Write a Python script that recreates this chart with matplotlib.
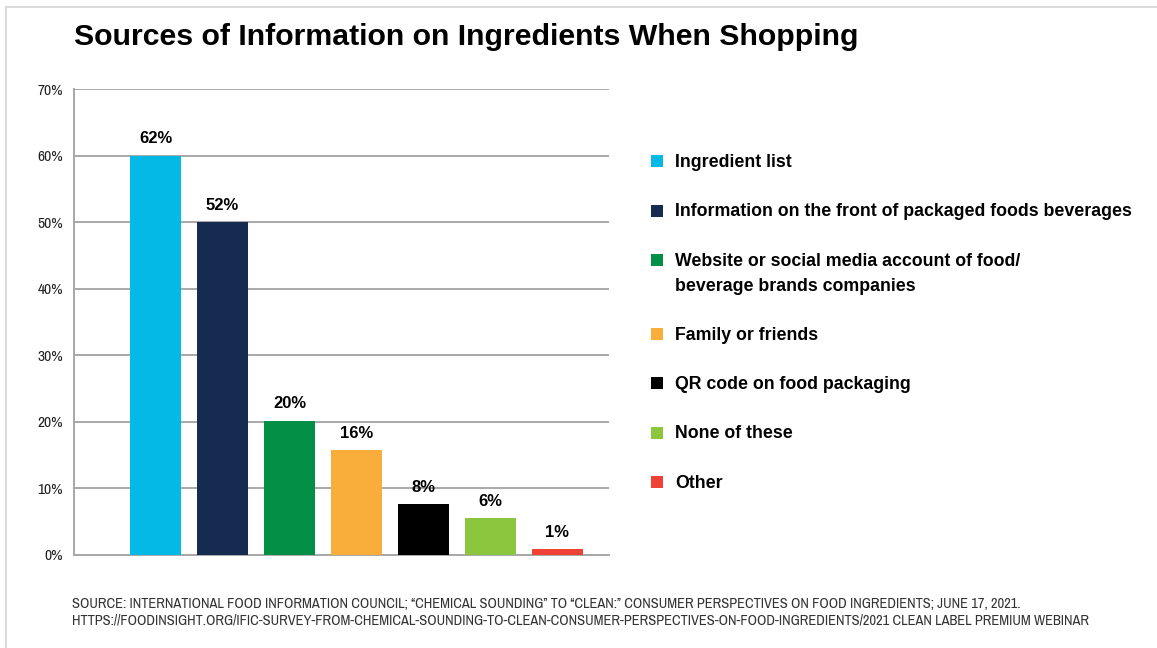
import matplotlib
matplotlib.use('Agg')
import matplotlib.pyplot as plt
from matplotlib import font_manager
from matplotlib.patches import Rectangle

# fonts: use a narrow face for ticks and footnote when one is installed
fonts = font_manager.fontManager.ttflist
NARROW = 'DejaVu Sans'
for f in fonts:
    if 'Narrow' in f.name:
        NARROW = f.name
        break
SANS = 'Liberation Sans'

categories = ['Ingredient list',
              'Information on the front of packaged foods beverages',
              'Website or social media account of food/\nbeverage brands companies',
              'Family or friends',
              'QR code on food packaging',
              'None of these',
              'Other']
bar_heights = [60, 50, 20.2, 15.7, 7.6, 5.5, 0.9]
bar_labels = ['62%', '52%', '20%', '16%', '8%', '6%', '1%']
colors = ['#05b9e6', '#152b4f', '#039046', '#f9ae3c', '#000000', '#8cc63f', '#ef4135']
yticks = [0, 10, 20, 30, 40, 50, 60, 70]
ytick_labels = ['0%', '10%', '20%', '30%', '40%', '50%', '60%', '70%']

title = 'Sources of Information on Ingredients When Shopping'
source = ('SOURCE: INTERNATIONAL FOOD INFORMATION COUNCIL; \u201cCHEMICAL SOUNDING\u201d TO \u201cCLEAN:\u201d '
          'CONSUMER PERSPECTIVES ON FOOD INGREDIENTS; JUNE 17, 2021.\n'
          'HTTPS://FOODINSIGHT.ORG/IFIC-SURVEY-FROM-CHEMICAL-SOUNDING-TO-CLEAN-CONSUMER-PERSPECTIVES-'
          'ON-FOOD-INGREDIENTS/2021 CLEAN LABEL PREMIUM WEBINAR')

W, H = 1157, 648
fig = plt.figure(figsize=(W / 100, H / 100), dpi=100)
fig.patch.set_facecolor('white')

# page frame, clipped at right and bottom like the screenshot
fig.patches.append(Rectangle((6 / W, -0.1), 1.2, 1 - 7 / H + 0.1, transform=fig.transFigure,
                             fill=False, edgecolor='#d4d4d4', linewidth=1.2))

ax = fig.add_axes([74 / W, 1 - 555 / H, (609 - 74) / W, (555 - 89) / H])
x = list(range(len(bar_heights)))
ax.bar(x, bar_heights, width=0.76, color=colors, zorder=3)
for xi, h, lab in zip(x, bar_heights, bar_labels):
    ax.text(xi, h + 2.5, lab, ha='center', va='center', fontsize=12,
            fontweight='bold', family=[SANS, 'DejaVu Sans'], zorder=4)

ax.set_xlim(-1.22, 6.77)
ax.set_ylim(0, 70)
ax.set_yticks(yticks)
ax.set_yticklabels(ytick_labels, family=[NARROW, 'DejaVu Sans'], fontsize=11.2, color='#222222')
ax.set_xticks([])
ax.tick_params(axis='y', length=0, pad=8)
ax.grid(axis='y', color='#a8a8a8', linewidth=1.4, zorder=0)
for s in ['top', 'right']:
    ax.spines[s].set_visible(False)
for s in ['left', 'bottom']:
    ax.spines[s].set_color('#a8a8a8')
    ax.spines[s].set_linewidth(1.4)

fig.text(74 / W, 1 - 37 / H, title, ha='left', va='center', fontsize=21.8,
         fontweight='bold', family=[SANS, 'DejaVu Sans'], color='black')

# legend drawn by hand so the marker sits on the first line of a wrapped label
y = 161
for cat, c in zip(categories, colors):
    fig.patches.append(Rectangle((651 / W, 1 - (y + 6) / H), 12 / W, 12 / H,
                                 transform=fig.transFigure, facecolor=c, edgecolor='none'))
    fig.text(675 / W, 1 - (y - 7) / H, cat, ha='left', va='top', fontsize=12.8,
             fontweight='bold', family=[SANS, 'DejaVu Sans'], linespacing=1.65)
    y += 49.5 + 24 * cat.count('\n')

fig.text(72 / W, 1 - 612 / H, source, ha='left', va='center', fontsize=10.4,
         family=[NARROW, 'DejaVu Sans'], color='#333333', linespacing=1.2)

fig.savefig('out.png', dpi=100, facecolor='white')
